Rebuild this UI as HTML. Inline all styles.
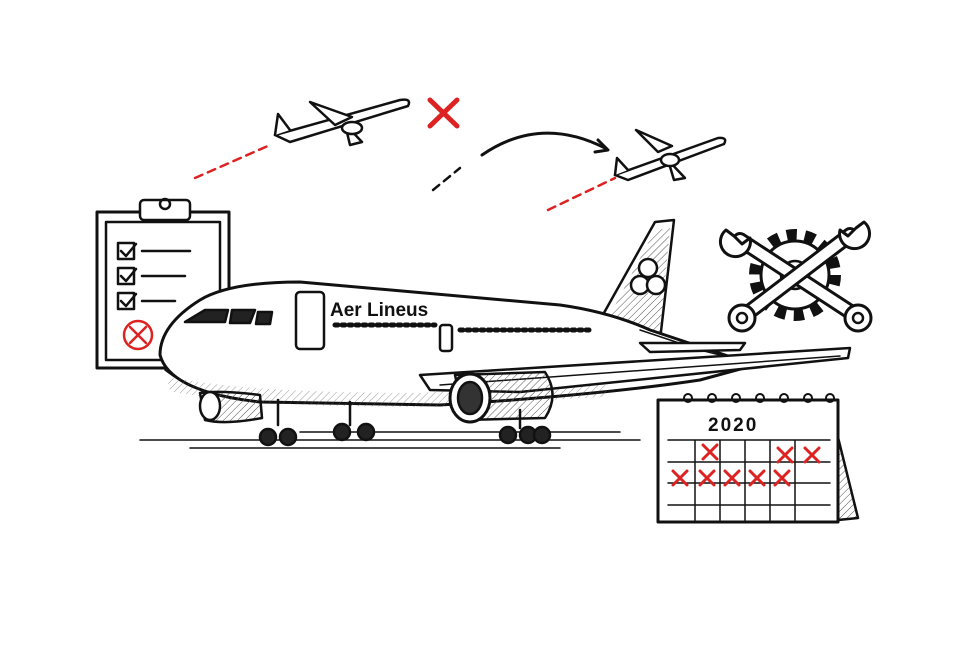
<!DOCTYPE html>
<html><head><meta charset="utf-8"><style>
html,body{margin:0;padding:0;background:#fff;width:980px;height:653px;overflow:hidden}
svg{display:block}
</style></head><body>
<svg width="980" height="653" viewBox="0 0 980 653" xmlns="http://www.w3.org/2000/svg" font-family="Liberation Sans, sans-serif">
<defs>
<pattern id="h" width="5" height="5" patternUnits="userSpaceOnUse" patternTransform="rotate(45)">
<line x1="0" y1="0" x2="0" y2="5" stroke="#555" stroke-width="1"/></pattern>
</defs>
<g fill="none" stroke="#111" stroke-width="2.5" stroke-linecap="round" stroke-linejoin="round">
<path d="M195 178 L270 145" stroke="#d22" stroke-dasharray="8 6"/>
<path d="M548 210 L615 178" stroke="#d22" stroke-dasharray="8 6"/>
<path d="M433 190 L460 168" stroke="#111" stroke-dasharray="8 6"/>
<path d="M482 155 Q540 115 605 148" stroke-width="3"/>
<path d="M598 140 L608 150 L595 152" stroke-width="3"/>
<path d="M430 100 L457 126 M457 100 L430 126" stroke="#d22" stroke-width="5"/>
<!-- small plane 1 -->
<path d="M275 135 L400 100 Q412 98 408 106 L290 142 Z" fill="#fff"/>
<path d="M275 135 L278 114 L290 130" fill="#fff"/>
<path d="M310 102 L352 117 L335 125 Z" fill="#fff"/>
<path d="M345 124 L362 142 L350 145 Z" fill="#fff"/>
<ellipse cx="352" cy="128" rx="10" ry="6" fill="#fff"/>
<!-- small plane 2 -->
<path d="M615 175 L718 138 Q728 137 724 144 L628 180 Z" fill="#fff"/>
<path d="M615 175 L617 158 L628 170" fill="#fff"/>
<path d="M636 130 L672 146 L658 152 Z" fill="#fff"/>
<path d="M668 160 L685 178 L674 180 Z" fill="#fff"/>
<ellipse cx="670" cy="160" rx="9" ry="6" fill="#fff"/>
<!-- clipboard -->
<rect x="97" y="212" width="132" height="156" fill="#fff" stroke-width="3"/>
<rect x="106" y="222" width="114" height="138" fill="#fff"/>
<rect x="140" y="200" width="50" height="20" rx="4" fill="#fff"/>
<circle cx="165" cy="204" r="5"/>
<rect x="118" y="243" width="16" height="16"/><path d="M121 251 L126 256 L136 244"/><path d="M142 251 H190"/>
<rect x="118" y="268" width="16" height="16"/><path d="M121 276 L126 281 L136 269"/><path d="M142 276 H185"/>
<rect x="118" y="293" width="16" height="16"/><path d="M121 301 L126 306 L136 294"/><path d="M142 301 H175"/>
<circle cx="138" cy="335" r="14" stroke="#d22"/><path d="M130 327 L146 343 M146 327 L130 343" stroke="#d22"/>
<path d="M140 440 H640 M190 448 H560 M300 432 H620" stroke-width="1.5"/>
<!-- tail -->
<path d="M600 320 L655 222 L674 220 L660 340 Z" fill="#fff"/>
<path d="M610 315 L655 230 L670 228 L660 335 Z" fill="url(#h)" stroke="none"/>
<circle cx="648" cy="268" r="9" fill="#fff"/><circle cx="640" cy="285" r="9" fill="#fff"/><circle cx="656" cy="285" r="9" fill="#fff"/>
<!-- fuselage -->
<path d="M160 355 Q160 325 200 300 Q230 282 300 282 L560 305 Q610 312 650 330 L755 365 L700 380 Q600 395 440 405 L260 402 Q170 392 160 355 Z" fill="#fff" stroke-width="3"/>
<path d="M165 370 Q200 398 260 402 L440 405 Q600 395 700 380" stroke-width="1.5"/>
<path d="M175 385 Q250 400 420 400 L600 390" stroke="url(#h)" stroke-width="14" opacity=".6"/>
<path d="M640 330 L700 350 L740 360" stroke-width="1.5"/>
<path d="M185 322 L205 310 L228 310 L225 322 Z M232 310 L255 310 L250 323 L230 323 Z M258 312 L272 312 L270 324 L256 324 Z" fill="#222"/>
<rect x="296" y="292" width="28" height="57" rx="4"/>
<rect x="440" y="325" width="12" height="26" rx="3"/>
<path d="M335 325 H435 M460 330 H590" stroke-width="5" stroke-dasharray="3 4"/>
<!-- wing -->
<path d="M420 375 L850 348 L848 358 L520 392 L430 390 Z" fill="#fff"/>
<path d="M440 385 L840 356" stroke-width="1.5"/>
<path d="M640 343 L745 343 L740 350 L650 352 Z" fill="#fff"/>
<!-- engines -->
<path d="M455 375 L545 372 Q560 395 545 418 L465 420 Z" fill="url(#h)"/>
<ellipse cx="470" cy="398" rx="20" ry="24" fill="#fff" stroke-width="3"/>
<ellipse cx="470" cy="398" rx="12" ry="16" fill="#333"/>
<path d="M200 393 Q220 390 260 395 L262 418 Q225 425 205 420 Z" fill="url(#h)"/>
<ellipse cx="210" cy="406" rx="10" ry="14" fill="#fff"/>
<path d="M278 400 V425 M350 402 V425 M520 410 V428"/>
<circle cx="268" cy="437" r="8" fill="#222"/><circle cx="288" cy="437" r="8" fill="#222"/>
<circle cx="342" cy="432" r="8" fill="#222"/><circle cx="366" cy="432" r="8" fill="#222"/>
<circle cx="508" cy="435" r="8" fill="#222"/><circle cx="528" cy="435" r="8" fill="#222"/><circle cx="542" cy="435" r="8" fill="#222"/>
<!-- gear -->
<circle cx="795" cy="275" r="40" stroke="#111" stroke-width="12" stroke-dasharray="10 8" stroke-linecap="butt"/>
<circle cx="795" cy="275" r="34" fill="#fff" stroke-width="3"/>
<circle cx="795" cy="275" r="14"/>
<!-- wrenches -->
<path d="M740 240 L855 315" stroke-width="16"/><path d="M740 240 L855 315" stroke="#fff" stroke-width="10"/>
<path d="M850 235 L745 315" stroke-width="16"/><path d="M850 235 L745 315" stroke="#fff" stroke-width="10"/>
<path d="M726 230 A15 15 0 1 0 750 238 L742 244 L734 236 Z" fill="#fff" stroke-width="3"/>
<path d="M864 222 A15 15 0 1 1 840 230 L848 236 L856 228 Z" fill="#fff" stroke-width="3"/>
<circle cx="858" cy="318" r="13" fill="#fff" stroke-width="3"/><circle cx="858" cy="318" r="5"/>
<circle cx="742" cy="318" r="13" fill="#fff" stroke-width="3"/><circle cx="742" cy="318" r="5"/>
<!-- calendar -->
<path d="M830 405 L858 518 L838 520 Z" fill="url(#h)"/>
<rect x="658" y="400" width="180" height="122" fill="#fff" stroke-width="3"/>
<path d="M668 440 H830 M668 462 H830 M668 483 H830 M668 505 H830 M695 440 V520 M720 440 V520 M745 440 V520 M770 440 V520 M795 440 V520" stroke-width="1.5"/>
<g stroke-width="2">
<circle cx="688" cy="398" r="4"/><circle cx="712" cy="398" r="4"/><circle cx="736" cy="398" r="4"/><circle cx="760" cy="398" r="4"/><circle cx="784" cy="398" r="4"/><circle cx="808" cy="398" r="4"/><circle cx="830" cy="398" r="4"/>
</g>
<g stroke="#d22" stroke-width="3">
<path d="M703 445 L717 459 M717 445 L703 459"/>
<path d="M778 448 L792 462 M792 448 L778 462"/>
<path d="M805 448 L819 462 M819 448 L805 462"/>
<path d="M673 471 L687 485 M687 471 L673 485"/>
<path d="M700 471 L714 485 M714 471 L700 485"/>
<path d="M725 471 L739 485 M739 471 L725 485"/>
<path d="M750 471 L764 485 M764 471 L750 485"/>
<path d="M775 471 L789 485 M789 471 L775 485"/>
</g>
</g>
<text x="330" y="316" font-size="19" font-weight="bold" fill="#111">Aer Lineus</text>
<text x="708" y="431" font-size="19" font-weight="bold" fill="#111" letter-spacing="2">2020</text>
</svg>
</body></html>
